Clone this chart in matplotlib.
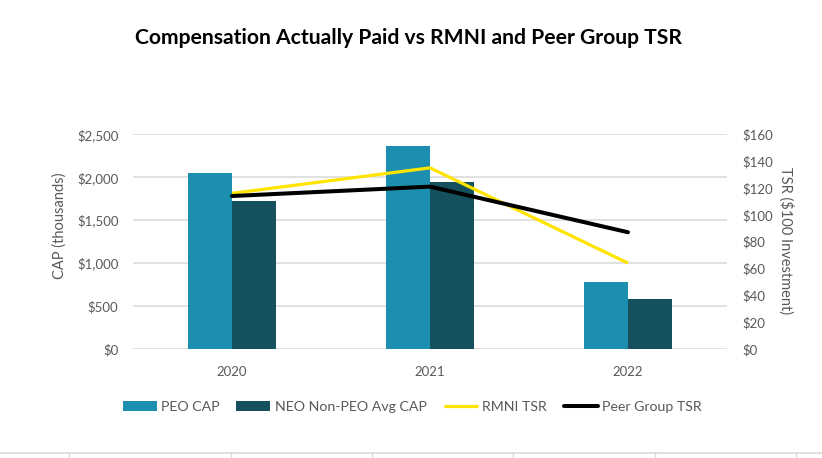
import matplotlib
matplotlib.use("Agg")
import matplotlib.pyplot as plt
import numpy as np
from matplotlib.lines import Line2D

plt.rcParams['font.family'] = ['Lato', 'DejaVu Sans']

years = ["2020", "2021", "2022"]
peo_cap = [2046, 2364, 777]
neo_cap = [1723, 1945, 582]
rmni_tsr = [116, 135, 64]
peer_tsr = [114, 121, 87]

left_ticks = [0, 500, 1000, 1500, 2000, 2500]
left_labels = ["$0", "$500", "$1,000", "$1,500", "$2,000", "$2,500"]
right_ticks = [0, 20, 40, 60, 80, 100, 120, 140, 160]
right_labels = ["$0", "$20", "$40", "$60", "$80", "$100", "$120", "$140", "$160"]

c_peo = "#1C8FB1"
c_neo = "#15505F"
c_rmni = "#FFE400"
c_peer = "#000000"
txt = "#595959"
grid = "#D9D9D9"

fig = plt.figure(figsize=(8.22, 4.58), dpi=100)
ax = fig.add_axes([133/822, 1-349/458, 594/822, (349-134.3)/458])
x = np.arange(len(years))
w = 0.222
ax.bar(x - w/2, peo_cap, width=w, color=c_peo, zorder=2, label="PEO CAP")
ax.bar(x + w/2, neo_cap, width=w, color=c_neo, zorder=2, label="NEO Non-PEO Avg CAP")
ax.set_xlim(-0.5, 2.5)
ax.set_ylim(0, 2500)
ax.set_yticks(left_ticks)
ax.set_yticklabels(left_labels)
ax.set_xticks(x)
ax.set_xticklabels(years)
ax.yaxis.grid(True, color=grid, linewidth=1.1, zorder=0)
ax.set_axisbelow(True)
for s in ax.spines.values():
    s.set_visible(False)
ax.tick_params(axis='both', length=0, colors=txt, labelsize=9.5)
ax.tick_params(axis='y', pad=10.5)
ax.tick_params(axis='x', pad=12)

ax2 = ax.twinx()
ax2.plot(x, rmni_tsr, color=c_rmni, linewidth=2.3, zorder=3, label="RMNI TSR", solid_capstyle='butt')
ax2.plot(x, peer_tsr, color=c_peer, linewidth=2.9, zorder=4, label="Peer Group TSR", solid_capstyle='round')
ax2.set_ylim(0, 160)
ax2.set_yticks(right_ticks)
ax2.set_yticklabels(right_labels)
for s in ax2.spines.values():
    s.set_visible(False)
ax2.tick_params(axis='both', length=0, colors=txt, labelsize=9.5)
ax2.tick_params(axis='y', pad=11)

fig.text(60/822, 1-226/458, "CAP (thousands)", rotation=90, ha='center', va='center',
         color=txt, fontsize=10.5)
fig.text(786/822, 1-241/458, "TSR ($100 Investment)", rotation=270, ha='center', va='center',
         color=txt, fontsize=10.5)

fig.text(408/822, 1-38/458, "Compensation Actually Paid vs RMNI and Peer Group TSR",
         ha='center', va='center', fontsize=15.2, fontweight='bold', color='black')

h1, l1 = ax.get_legend_handles_labels()
h2, l2 = ax2.get_legend_handles_labels()
fig.legend(h1 + h2, l1 + l2, loc='center', bbox_to_anchor=(412/822, 1-407/458),
           ncol=4, frameon=False, fontsize=10.2, labelcolor=txt,
           handlelength=2.4, handleheight=0.65, handletextpad=0.3, columnspacing=1.2)

# bottom border line with ticks
fig.add_artist(Line2D([0, 1], [1-453/458, 1-453/458], color=grid, linewidth=1.2, transform=fig.transFigure))
for tx in [69, 231, 372, 513, 655, 796]:
    fig.add_artist(Line2D([tx/822, tx/822], [1-453/458, 0], color=grid, linewidth=1.0, transform=fig.transFigure))

fig.savefig("out.png", dpi=100)
